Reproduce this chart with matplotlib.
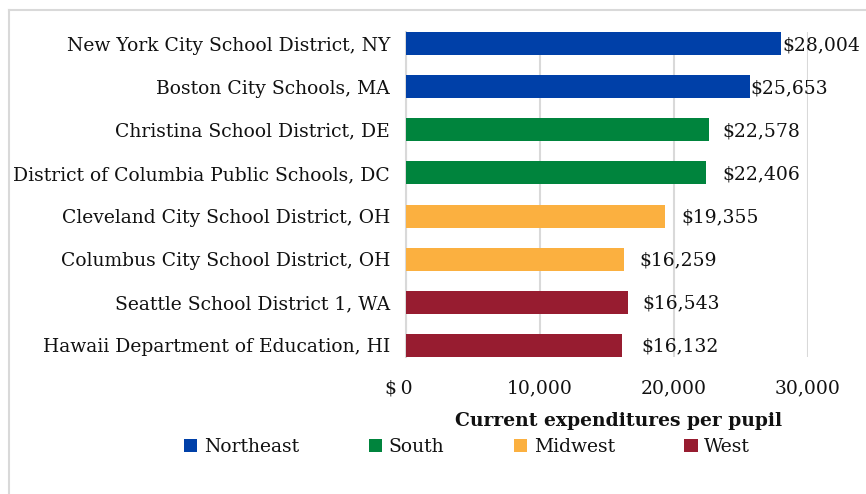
import matplotlib
matplotlib.use("Agg")
import matplotlib.pyplot as plt
from matplotlib.patches import Patch
from matplotlib.lines import Line2D
from matplotlib.ticker import FuncFormatter
import matplotlib.transforms as mtransforms

districts = [
    "New York City School District, NY",
    "Boston City Schools, MA",
    "Christina School District, DE",
    "District of Columbia Public Schools, DC",
    "Cleveland City School District, OH",
    "Columbus City School District, OH",
    "Seattle School District 1, WA",
    "Hawaii Department of Education, HI",
]
values = [28004, 25653, 22578, 22406, 19355, 16259, 16543, 16132]
regions = ["Northeast", "Northeast", "South", "South", "Midwest", "Midwest", "West", "West"]
region_names = ["Northeast", "South", "Midwest", "West"]
region_colors = {"Northeast": "#0040A8", "South": "#00843D", "Midwest": "#FBB040", "West": "#971C30"}
label_offsets_px = [1, 1, 14, 16, 16, 16, 15, 19]
xticks = [0, 10000, 20000, 30000]

plt.rcParams['font.family'] = ['DejaVu Serif']
FS = 13.5

W, H = 866, 494
fig = plt.figure(figsize=(W / 100, H / 100), dpi=100)
ax_left, ax_right = 406 / W, 808 / W
ax_top, ax_bot = 1 - 32 / H, 1 - 357 / H
ax = fig.add_axes([ax_left, ax_bot, ax_right - ax_left, ax_top - ax_bot])

n = len(districts)
h = 23 / 43
ypos = list(range(n))
colors = [region_colors[r] for r in regions]
ax.barh(ypos, values, height=h, color=colors, zorder=3)
ax.set_ylim(n - 1 + h / 2, -h / 2)
ax.set_xlim(0, 30000)

ax.set_yticks(ypos)
ax.set_yticklabels(districts, fontsize=FS)
ax.set_xticks(xticks)
ax.xaxis.set_major_formatter(FuncFormatter(lambda v, p: "$\u20090" if v == 0 else f"{int(v):,}"))
ax.tick_params(axis='x', labelsize=FS, length=0, pad=16, labelcolor='#111111')
ax.tick_params(axis='y', length=0, pad=11.5, labelcolor='#111111')

fig.canvas.draw()
xt = ax.get_xticklabels()
xt[0].set_transform(xt[0].get_transform() + mtransforms.ScaledTranslation(-7 / 100, 0, fig.dpi_scale_trans))

for s in ['top', 'right', 'bottom']:
    ax.spines[s].set_visible(False)
ax.spines['left'].set_color('#d9d9d9')
ax.spines['left'].set_linewidth(1.5)
ax.grid(axis='x', color='#d9d9d9', linewidth=1.5, zorder=0)
ax.set_axisbelow(True)

for y, v, off in zip(ypos, values, label_offsets_px):
    ax.annotate(f"${v:,}", xy=(v, y), xytext=(off * 0.72, -1), textcoords='offset points',
                ha='left', va='center', fontsize=FS, color='#111111')

ax.set_xlabel("Current expenditures per pupil", fontsize=FS, fontweight='bold', color='#111111')
ax.xaxis.set_label_coords((619 / W - ax_left) / (ax_right - ax_left), -0.17)

handles = [Patch(facecolor=region_colors[r], label=r) for r in region_names]
leg = fig.legend(handles=handles, loc='center', bbox_to_anchor=(467 / W, 1 - 447 / H), ncol=4,
                 frameon=False, prop={'family': 'DejaVu Serif', 'size': FS},
                 handlelength=0.72, handleheight=0.72, handletextpad=0.35, columnspacing=3.7)
for t in leg.get_texts():
    t.set_color('#111111')

# light border around chart area
fig.add_artist(Line2D([9 / W, 1], [1 - 10 / H, 1 - 10 / H], color='#d9d9d9', linewidth=1.5, transform=fig.transFigure))
fig.add_artist(Line2D([9 / W, 9 / W], [0, 1 - 10 / H], color='#d9d9d9', linewidth=1.5, transform=fig.transFigure))

fig.savefig("out.png", dpi=100)
